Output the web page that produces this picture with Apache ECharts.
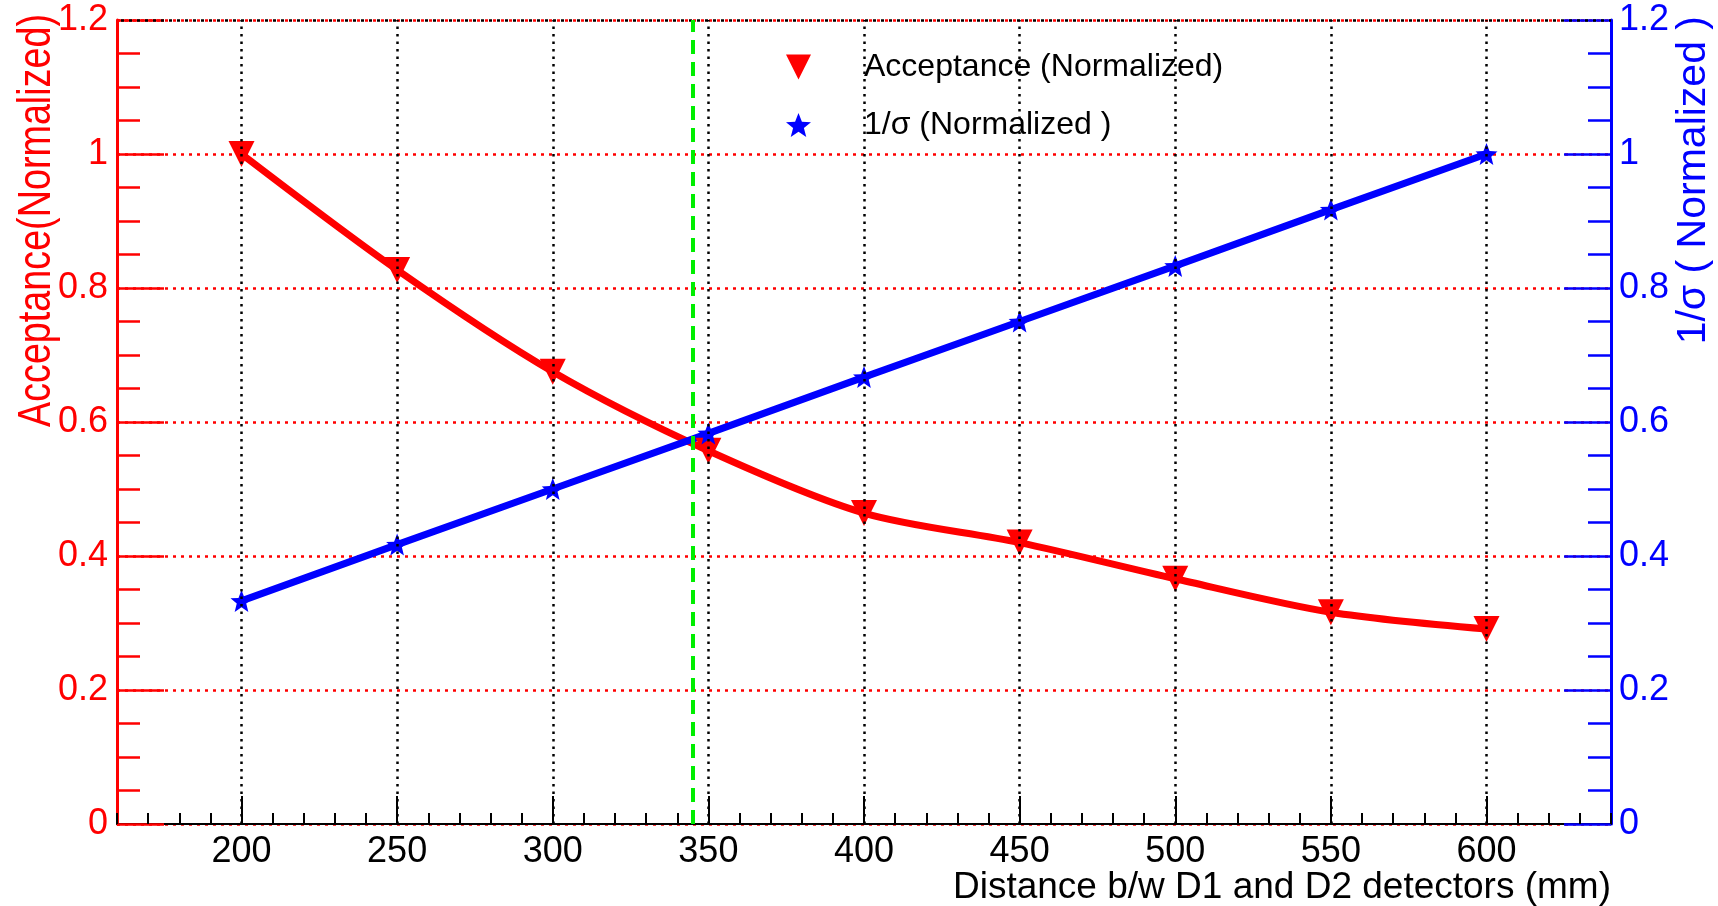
<!DOCTYPE html>
<html>
<head>
<meta charset="utf-8">
<script src="https://cdn.jsdelivr.net/npm/echarts@6/dist/echarts.min.js"></script>
<style>
html,body{margin:0;padding:0;background:#fff;}
#chart{width:1718px;height:906px;}
</style>
</head>
<body>
<div id="chart"></div>
<script>
// ---- data ----
const distance = [200, 250, 300, 350, 400, 450, 500, 550, 600];
const acceptance = [1.0, 0.827, 0.675, 0.557, 0.464, 0.42, 0.366, 0.316, 0.291];
const invSigma = [0.333, 0.417, 0.5, 0.583, 0.667, 0.75, 0.833, 0.917, 1.0];
const xMajorTicks = [200, 250, 300, 350, 400, 450, 500, 550, 600];
const xRange = [160, 640];
const yRange = [0, 1.2];
const optimumDistance = 345;
const seriesNames = ['Acceptance (Normalized)', '1/σ (Normalized )'];
const xTitle = 'Distance b/w D1 and D2 detectors (mm)';
const yLeftTitle = 'Acceptance(Normalized)';
const yRightTitle = '1/σ ( Normalized )';

const RED = '#ff0000', BLUE = '#0000ff', GREEN = '#00ee00';
const TRI = 'path://M0,0 L10,0 L5,10 Z';
const STAR = 'path://M0,-10 L2.6,-3.4 L9.5,-3.1 L4.1,1.3 L5.9,8.1 L0,4.2 L-5.9,8.1 L-4.1,1.3 L-9.5,-3.1 L-2.6,-3.4 Z';

const chart = echarts.init(document.getElementById('chart'), null, {renderer: 'canvas'});

const option = {
  animation: false,
  backgroundColor: '#ffffff',
  grid: {left: 117, right: 107, top: 20, bottom: 82, containLabel: false},
  legend: {
    orient: 'vertical',
    left: 781, top: 46,
    itemWidth: 25, itemHeight: 25, itemGap: 26,
    textStyle: {fontFamily: 'Liberation Sans', fontSize: 32, color: '#000', padding: [0, 0, 0, 48]},
    data: [
      {name: seriesNames[0], icon: TRI},
      {name: seriesNames[1], icon: STAR}
    ]
  },
  xAxis: [
    {
      type: 'value', min: xRange[0], max: xRange[1], interval: 10,
      axisLine: {show: true, onZero: false, lineStyle: {color: '#000', width: 2}},
      axisTick: {show: true, inside: true, length: 11, lineStyle: {color: '#000', width: 2}},
      axisLabel: {
        show: true, margin: 10, color: '#000', fontFamily: 'Liberation Sans', fontSize: 36,
        formatter: v => (v % 50 === 0 ? String(v) : '')
      },
      splitLine: {show: false}
    },
    {
      type: 'value', min: xRange[0], max: xRange[1], position: 'bottom',
      axisLine: {show: false},
      axisTick: {show: true, inside: true, length: 28, customValues: xMajorTicks, lineStyle: {color: '#000', width: 2}},
      axisLabel: {show: false},
      splitLine: {show: false}
    }
  ],
  yAxis: [
    {
      type: 'value', position: 'left', min: yRange[0], max: yRange[1], interval: 0.2,
      axisLine: {show: true, onZero: false, lineStyle: {color: RED, width: 3}},
      axisTick: {show: true, inside: true, length: 47, lineStyle: {color: RED, width: 2.5}},
      minorTick: {show: true, splitNumber: 4, length: 23, lineStyle: {color: RED, width: 2.5}},
      axisLabel: {color: RED, fontFamily: 'Liberation Sans', fontSize: 36, margin: 9},
      splitLine: {show: true, lineStyle: {color: RED, width: 2.5, type: [3, 5]}}
    },
    {
      type: 'value', position: 'right', min: yRange[0], max: yRange[1], interval: 0.2,
      axisLine: {show: true, onZero: false, lineStyle: {color: BLUE, width: 3}},
      axisTick: {show: true, inside: true, length: 47, lineStyle: {color: BLUE, width: 2.5}},
      minorTick: {show: true, splitNumber: 4, length: 23, lineStyle: {color: BLUE, width: 2.5}},
      axisLabel: {color: BLUE, fontFamily: 'Liberation Sans', fontSize: 36, margin: 8},
      splitLine: {show: false}
    }
  ],
  series: [
    {
      name: 'grid-x', type: 'line', data: [], z: 1, silent: true,
      markLine: {
        silent: true, symbol: ['none', 'none'], animation: false,
        label: {show: false},
        lineStyle: {color: '#000', width: 2.5, type: [2.5, 5]},
        data: xMajorTicks.map(v => ({xAxis: v})).concat([
          {yAxis: yRange[1], lineStyle: {color: '#000', width: 2.5, type: [3, 5], dashOffset: 4}}
        ])
      }
    },
    {
      name: seriesNames[0], type: 'line', yAxisIndex: 0, z: 3,
      data: distance.map((d, i) => [d, acceptance[i]]),
      smooth: 0.3,
      symbol: TRI, symbolSize: 26,
      lineStyle: {color: RED, width: 7},
      itemStyle: {color: RED}
    },
    {
      name: seriesNames[1], type: 'line', yAxisIndex: 1, z: 3,
      data: distance.map((d, i) => [d, invSigma[i]]),
      symbol: STAR, symbolSize: 22,
      lineStyle: {color: BLUE, width: 7},
      itemStyle: {color: BLUE}
    },
    {
      name: 'optimum', type: 'line', data: [], z: 5, silent: true,
      markLine: {
        silent: true, symbol: ['none', 'none'], animation: false,
        label: {show: false},
        lineStyle: {color: GREEN, width: 4, type: [14, 8]},
        data: [{xAxis: optimumDistance}]
      }
    }
  ],
  graphic: [
    {
      type: 'text', x: 37, y: 14, rotation: Math.PI / 2, scaleX: 0.82,
      style: {text: yLeftTitle, fill: RED, font: '46px "Liberation Sans"', align: 'right', verticalAlign: 'middle'}
    },
    {
      type: 'text', x: 1694, y: 16, rotation: Math.PI / 2,
      style: {text: yRightTitle, fill: BLUE, font: '41px "Liberation Sans"', align: 'right', verticalAlign: 'middle'}
    },
    {
      type: 'text', x: 1611, y: 888,
      style: {text: xTitle, fill: '#000', font: '37px "Liberation Sans"', align: 'right', verticalAlign: 'middle'}
    }
  ]
};
chart.setOption(option);
</script>
</body>
</html>
